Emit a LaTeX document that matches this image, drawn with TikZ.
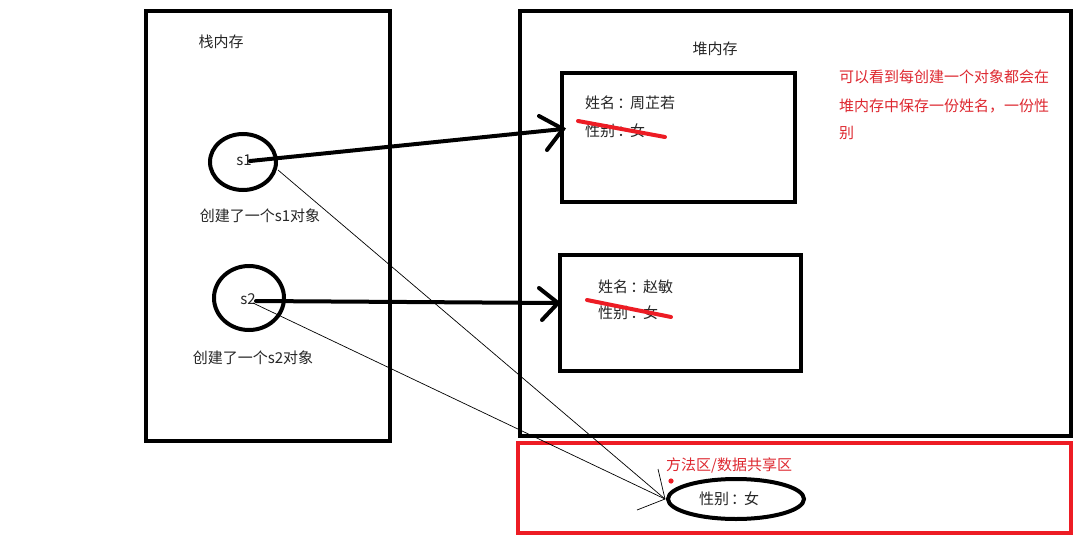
\documentclass[tikz,border=0pt]{standalone}
\usepackage{fontspec}
\setmainfont{Noto Sans CJK SC}
\usetikzlibrary{shapes.geometric}
\definecolor{pred}{RGB}{237,28,36}
\definecolor{tred}{RGB}{222,40,48}
\newcommand{\fc}{\hspace{0.15em}：\hspace{-0.15em}}
\begin{document}
\begin{tikzpicture}[x=1pt,y=-1pt,
  frame/.style={draw=black,line width=4pt,fill=none},
  oval/.style={ellipse,draw=black,line width=4pt,inner sep=0pt},
  lbl/.style={font=\fontsize{15}{18}\selectfont,text=black!85,inner sep=0pt},
  rlbl/.style={font=\fontsize{15}{18}\selectfont,text=tred,inner sep=0pt,anchor=west},
  strike/.style={draw=pred,line width=4pt,line cap=round},
  thick arrow/.style={line width=4pt,line cap=round},
  thin/.style={line width=0.7pt}]
\useasboundingbox[fill=white] (0,0) rectangle (1079,543);
% frames
\node[frame,minimum width=244pt,minimum height=430pt,inner sep=0pt] (stack) at (268,226) {};
\node[frame,minimum width=551pt,minimum height=425pt,inner sep=0pt] (heap) at (795.5,223.5) {};
\node[frame,draw=pred,minimum width=553pt,minimum height=90pt,inner sep=0pt] (method) at (794.5,488) {};
\node[frame,minimum width=233pt,minimum height=129pt,inner sep=0pt] (box1) at (678.5,137.5) {};
\node[frame,minimum width=241pt,minimum height=116pt,inner sep=0pt] (box2) at (680.5,313) {};
% titles
\node[lbl] (stacklbl) at (221,42) {栈内存};
\node[lbl] (heaplbl) at (715,49) {堆内存};
% ovals
\node[oval,minimum width=66pt,minimum height=56pt] (s1) at (243,162) {};
\node[lbl] (s1t) at (244,160) {s1};
\node[lbl] (c1) at (260,216) {创建了一个s1对象};
\node[oval,minimum width=70pt,minimum height=64pt] (s2) at (249,298) {};
\node[lbl] (s2t) at (248,299) {s2};
\node[lbl] (c2) at (253,358) {创建了一个s2对象};
\node[oval,minimum width=136pt,minimum height=40pt] (f) at (736,499) {};
\node[lbl] (ft) at (729,499) {性别\fc 女};
% box texts
\node[lbl,anchor=west] (n1) at (585,103) {姓名\fc 周芷若};
\node[lbl,anchor=west] (g1) at (585,131) {性别\fc 女};
\node[lbl,anchor=west] (n2) at (598,287) {姓名\fc 赵敏};
\node[lbl,anchor=west] (g2) at (598,313) {性别\fc 女};
% strike lines
\coordinate (r1a) at (578,121); \coordinate (r1b) at (665,137);
\coordinate (r2a) at (587,300); \coordinate (r2b) at (671,317);
\draw[strike] (r1a) -- (r1b);
\draw[strike] (r2a) -- (r2b);
% red notes
\node[rlbl] (note1) at (839,77) {可以看到每创建一个对象都会在};
\node[rlbl] (note2) at (839,106) {堆内存中保存一份姓名，一份性};
\node[rlbl] (note3) at (839,133) {别};
\node[rlbl] (mlbl) at (666,465) {方法区/数据共享区};
\fill[pred] (671,481) circle (2.6pt);
% thick arrows
\coordinate (a1s) at (250,161); \coordinate (a1t) at (563,129);
\coordinate (a1u) at (539,116); \coordinate (a1d) at (547,150);
\draw[thick arrow] (a1s) -- (a1t);
\draw[thick arrow] (a1u) -- (a1t) -- (a1d);
\coordinate (a2s) at (256,301); \coordinate (a2t) at (558,303);
\coordinate (a2u) at (539,288); \coordinate (a2d) at (542,320);
\draw[thick arrow] (a2s) -- (a2t);
\draw[thick arrow] (a2u) -- (a2t) -- (a2d);
% thin arrows
\coordinate (m) at (665,499);
\coordinate (t1) at (278,170); \coordinate (t2) at (253,303);
\coordinate (h1) at (658,469); \coordinate (h2) at (637,510);
\draw[thin] (t1) -- (m);
\draw[thin] (t2) -- (m);
\draw[thin] (h1) -- (m) -- (h2);
\end{tikzpicture}
\end{document}
